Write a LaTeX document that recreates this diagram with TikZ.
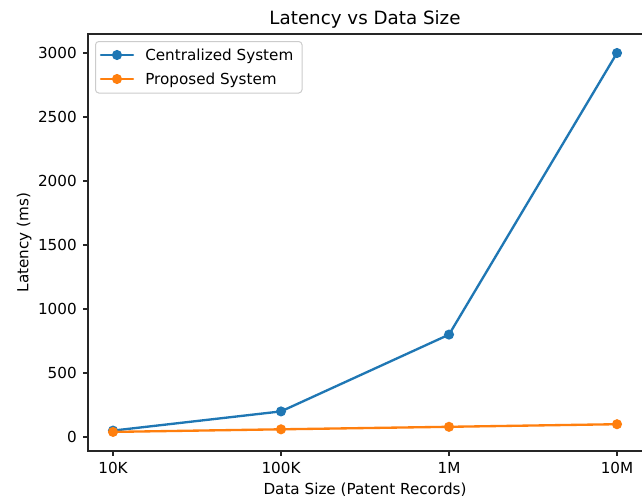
\documentclass[tikz,border=0pt]{standalone}
\usepackage{fontspec}
\setmainfont{DejaVu Sans}
\begin{document}
\begin{tikzpicture}[x=0.75pt,y=-0.75pt,
  spine/.style={line width=0.93pt,draw=black!85,line cap=rect},
  tick/.style={line width=0.93pt,draw=black!85},
  ticklabel/.style={inner sep=0pt,font=\fontsize{11.4}{13}\selectfont},
  axlabel/.style={inner sep=0pt,font=\fontsize{11.4}{13}\selectfont},
  series/.style={line width=1.75pt,line join=round,line cap=round},
  dot/.style={circle,inner sep=0pt,minimum size=7.6pt,fill=#1,draw=none},
  legendbox/.style={draw=black!20,fill=white,fill opacity=0.8,draw opacity=1,line width=0.75pt,rounded corners=2.5pt}
]
\definecolor{cblue}{HTML}{1F77B4}
\definecolor{corange}{HTML}{FF7F0E}
\useasboundingbox (0,0) rectangle (642,500);
\fill[white] (0,0) rectangle (642,500);

% axes frame (right spine falls on the page edge)
\coordinate (axTL) at (88,34);
\coordinate (axBR) at (642,451);
\draw[spine] (88,451) -- (88,34) -- (642,34);
\draw[spine] (88,451) -- (642,451);

% y ticks: y = 437 - 0.128 v
\foreach \v in {0,500,1000,1500,2000,2500,3000}{
  \pgfmathsetmacro{\yy}{437-0.128*\v}
  \draw[tick] (88,\yy) -- (82.6,\yy);
  \node[ticklabel,anchor=base east] (yt\v) at (77,\yy+5.6) {\v};
}
% x ticks: x = 113 + 168 i
\foreach \lab [count=\i from 0] in {10K,100K,1M,10M}{
  \pgfmathsetmacro{\xx}{113+168*\i}
  \draw[tick] (\xx,451) -- (\xx,456.4);
  \node[ticklabel,anchor=base] (xt\i) at (\xx,473.5) {\lab};
}

% labels
\node[axlabel,anchor=base] (xlabel) at (365,494) {Data Size (Patent Records)};
\node[axlabel,anchor=base,rotate=90] (ylabel) at (28.5,242.5) {Latency (ms)};
\node[inner sep=0pt,anchor=base,font=\fontsize{13.7}{16}\selectfont] (title) at (365,24) {Latency vs Data Size};

% data points
\coordinate (c0) at (113,430.6);
\coordinate (c1) at (281,411.4);
\coordinate (c2) at (449,334.6);
\coordinate (c3) at (617,53);
\coordinate (p0) at (113,431.9);
\coordinate (p1) at (281,429.3);
\coordinate (p2) at (449,426.8);
\coordinate (p3) at (617,424.2);

% centralized system
\draw[series,cblue] (c0) -- (c1) -- (c2) -- (c3);
\foreach \k in {0,...,3}{\node[dot=cblue] (cm\k) at (c\k) {};}
% proposed system
\draw[series,corange] (p0) -- (p1) -- (p2) -- (p3);
\foreach \k in {0,...,3}{\node[dot=corange] (pm\k) at (p\k) {};}

% legend
\draw[legendbox] (95.5,41.5) rectangle (302,93);
\coordinate (l1a) at (101,55);
\coordinate (l1b) at (133,55);
\coordinate (l2a) at (101,79);
\coordinate (l2b) at (133,79);
\draw[series,cblue] (l1a) -- (l1b);
\node[dot=cblue] (l1m) at (117,55) {};
\draw[series,corange] (l2a) -- (l2b);
\node[dot=corange] (l2m) at (117,79) {};
\node[axlabel,anchor=base west] (leg1) at (145,60.5) {Centralized System};
\node[axlabel,anchor=base west] (leg2) at (145,84.5) {Proposed System};
\end{tikzpicture}
\end{document}
